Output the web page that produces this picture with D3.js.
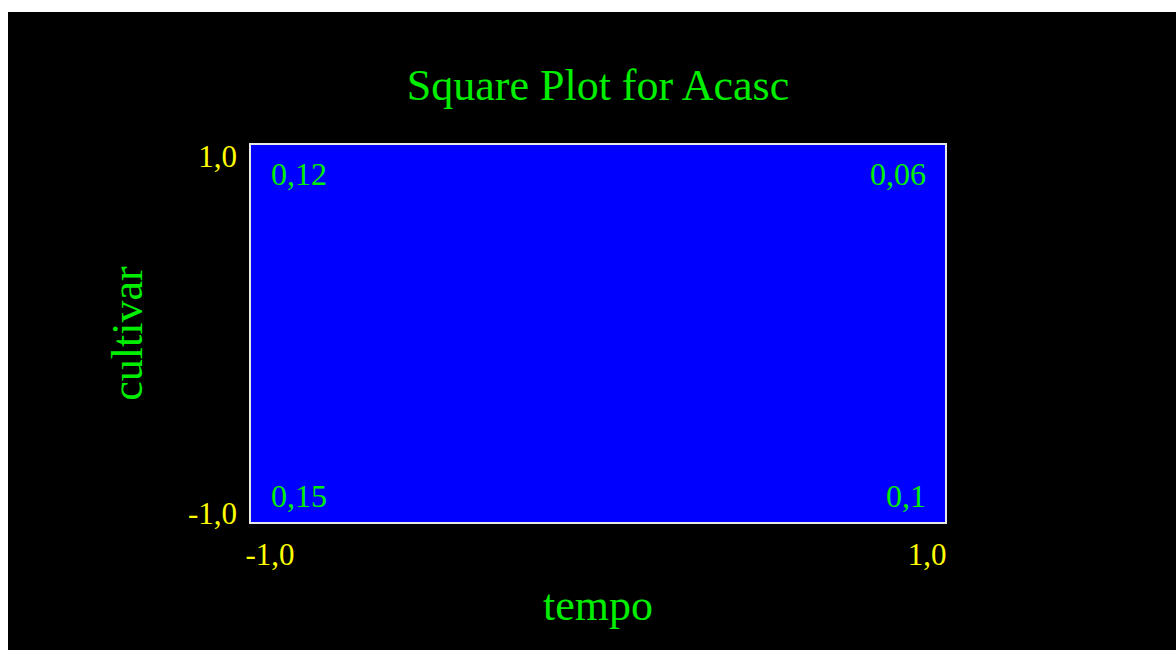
<!DOCTYPE html>
<html>
<head>
<meta charset="utf-8">
<script src="https://cdn.jsdelivr.net/npm/d3@7"></script>
<style>
  body { margin: 0; background: #fff; }
  svg { display: block; }
  text { font-family: "Liberation Serif", "Times New Roman", serif; }
</style>
</head>
<body>
<div id="chart"></div>
<script>
// data
var title = "Square Plot for Acasc";
var xLabel = "tempo";
var yLabel = "cultivar";
var tickValues = [-1, 1];
var cellX = [-1, 1, -1, 1];
var cellY = [1, 1, -1, -1];
var cellVals = [0.12, 0.06, 0.15, 0.1];

var W = 1176, H = 650;
var margin = {top: 144, right: 230, bottom: 127, left: 250},
    width = W - margin.left - margin.right,
    height = H - margin.top - margin.bottom;

var loc = d3.formatLocale({decimal: ",", thousands: ".", grouping: [3], currency: ["", ""], minus: "-"});
var fmtTick = loc.format(".1f");
var fmtVal = loc.format("~g");

var svg = d3.select("#chart").append("svg")
    .attr("width", W)
    .attr("height", H);

// black panel
svg.append("rect")
    .attr("x", 8).attr("y", 12)
    .attr("width", W - 8).attr("height", H - 12)
    .attr("fill", "#000");

svg.append("text")
    .attr("x", margin.left + width / 2)
    .attr("y", 100)
    .attr("text-anchor", "middle")
    .attr("fill", "#00ee00")
    .style("font-size", "44px")
    .text(title);

var g = svg.append("g")
    .attr("transform", "translate(" + margin.left + "," + margin.top + ")");

var x = d3.scaleLinear().domain([-1, 1]).range([0, width]);
var y = d3.scaleLinear().domain([-1, 1]).range([height, 0]);

// square
g.append("rect")
    .attr("x", x(-1)).attr("y", y(1))
    .attr("width", x(1) - x(-1)).attr("height", y(-1) - y(1))
    .attr("fill", "#0000ff")
    .attr("stroke", "#e8e8e8")
    .attr("stroke-width", 2);

// x axis
var gx = g.append("g")
    .attr("transform", "translate(0," + height + ")")
    .call(d3.axisBottom(x).tickValues(tickValues).tickFormat(fmtTick).tickSize(0));
gx.select(".domain").remove();
gx.selectAll("text")
    .attr("fill", "#ffff00")
    .attr("y", 42).attr("dy", 0)
    .style("font-size", "31px")
    .attr("text-anchor", function(d) { return d < 0 ? "start" : "end"; })
    .attr("dx", function(d) { return d < 0 ? -5 : 0; });

// y axis
var gy = g.append("g")
    .call(d3.axisLeft(y).tickValues(tickValues).tickFormat(fmtTick).tickSize(0));
gy.select(".domain").remove();
gy.selectAll("text")
    .attr("fill", "#ffff00")
    .attr("x", -13)
    .attr("dy", function(d) { return d > 0 ? 22 : 0; })
    .style("font-size", "31px")
    .attr("text-anchor", "end");

// axis titles
g.append("text")
    .attr("x", width / 2)
    .attr("y", height + 97)
    .attr("text-anchor", "middle")
    .attr("fill", "#00ee00")
    .style("font-size", "44px")
    .text(xLabel);

g.append("text")
    .attr("transform", "rotate(-90)")
    .attr("x", -height / 2)
    .attr("y", -108)
    .attr("text-anchor", "middle")
    .attr("fill", "#00ee00")
    .style("font-size", "44px")
    .text(yLabel);

// corner values
var cells = cellVals.map(function(v, i) { return {x: cellX[i], y: cellY[i], v: v}; });
g.selectAll(".cell")
    .data(cells)
    .enter().append("text")
    .attr("class", "cell")
    .attr("x", function(d) { return d.x < 0 ? x(d.x) + 21 : x(d.x) - 20; })
    .attr("y", function(d) { return d.y > 0 ? y(d.y) + 41 : y(d.y) - 16; })
    .attr("text-anchor", function(d) { return d.x < 0 ? "start" : "end"; })
    .attr("fill", "#00ee00")
    .style("font-size", "32px")
    .text(function(d) { return fmtVal(d.v); });
</script>
</body>
</html>
